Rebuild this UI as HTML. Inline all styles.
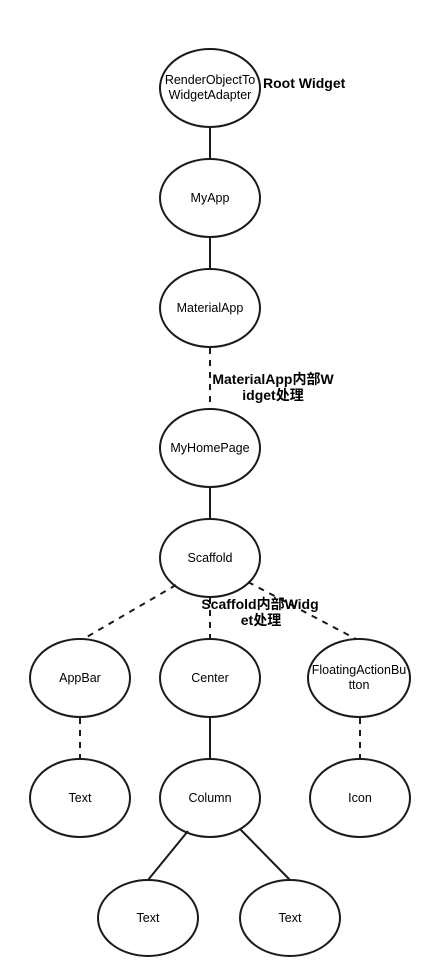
<!DOCTYPE html>
<html><head><meta charset="utf-8"><style>
html,body{margin:0;padding:0;background:#fff;}
svg{display:block;}
text{font-family:"Liberation Sans","Noto Sans CJK SC",sans-serif;font-size:12.5px;fill:#000;}
.b{font-weight:bold;font-size:14px;}
</style></head><body>
<svg width="430" height="975" viewBox="0 0 430 975" xmlns="http://www.w3.org/2000/svg">
<g stroke="#1a1a1a" stroke-width="2" fill="none">
<line x1="210" y1="128" x2="210" y2="159"/>
<line x1="210" y1="238" x2="210" y2="269"/>
<line x1="210" y1="348" x2="210" y2="409" stroke-dasharray="6,6"/>
<line x1="210" y1="488" x2="210" y2="519"/>
<line x1="176" y1="585" x2="85" y2="638" stroke-dasharray="6,6"/>
<line x1="210" y1="598" x2="210" y2="638" stroke-dasharray="6,6"/>
<line x1="248" y1="582" x2="356" y2="639" stroke-dasharray="6,6"/>
<line x1="80" y1="718" x2="80" y2="759" stroke-dasharray="6,6"/>
<line x1="210" y1="718" x2="210" y2="759"/>
<line x1="360" y1="718" x2="360" y2="759" stroke-dasharray="6,6"/>
<line x1="188" y1="831" x2="148" y2="880"/>
<line x1="240" y1="829" x2="290" y2="880"/>
<ellipse cx="210" cy="88" rx="50" ry="39"/>
<ellipse cx="210" cy="198" rx="50" ry="39"/>
<ellipse cx="210" cy="308" rx="50" ry="39"/>
<ellipse cx="210" cy="448" rx="50" ry="39"/>
<ellipse cx="210" cy="558" rx="50" ry="39"/>
<ellipse cx="80" cy="678" rx="50" ry="39"/>
<ellipse cx="210" cy="678" rx="50" ry="39"/>
<ellipse cx="359" cy="678" rx="51" ry="39"/>
<ellipse cx="80" cy="798" rx="50" ry="39"/>
<ellipse cx="210" cy="798" rx="50" ry="39"/>
<ellipse cx="360" cy="798" rx="50" ry="39"/>
<ellipse cx="148" cy="918" rx="50" ry="38"/>
<ellipse cx="290" cy="918" rx="50" ry="38"/>
</g>
<g text-anchor="middle">
<text x="210" y="84">RenderObjectTo</text>
<text x="210" y="99">WidgetAdapter</text>
<text x="210" y="202">MyApp</text>
<text x="210" y="312">MaterialApp</text>
<text x="210" y="452">MyHomePage</text>
<text x="210" y="562">Scaffold</text>
<text x="80" y="682">AppBar</text>
<text x="210" y="682">Center</text>
<text x="359" y="674">FloatingActionBu</text>
<text x="359" y="689">tton</text>
<text x="80" y="802">Text</text>
<text x="210" y="802">Column</text>
<text x="360" y="802">Icon</text>
<text x="148" y="922">Text</text>
<text x="290" y="922">Text</text>
<text class="b" x="260" y="609">Scaffold内部Widg</text>
<text class="b" x="261" y="625">et处理</text>
<text class="b" x="273" y="384">MaterialApp内部W</text>
<text class="b" x="273" y="400">idget处理</text>
</g>
<text class="b" x="263" y="88">Root Widget</text>
</svg>
</body></html>
